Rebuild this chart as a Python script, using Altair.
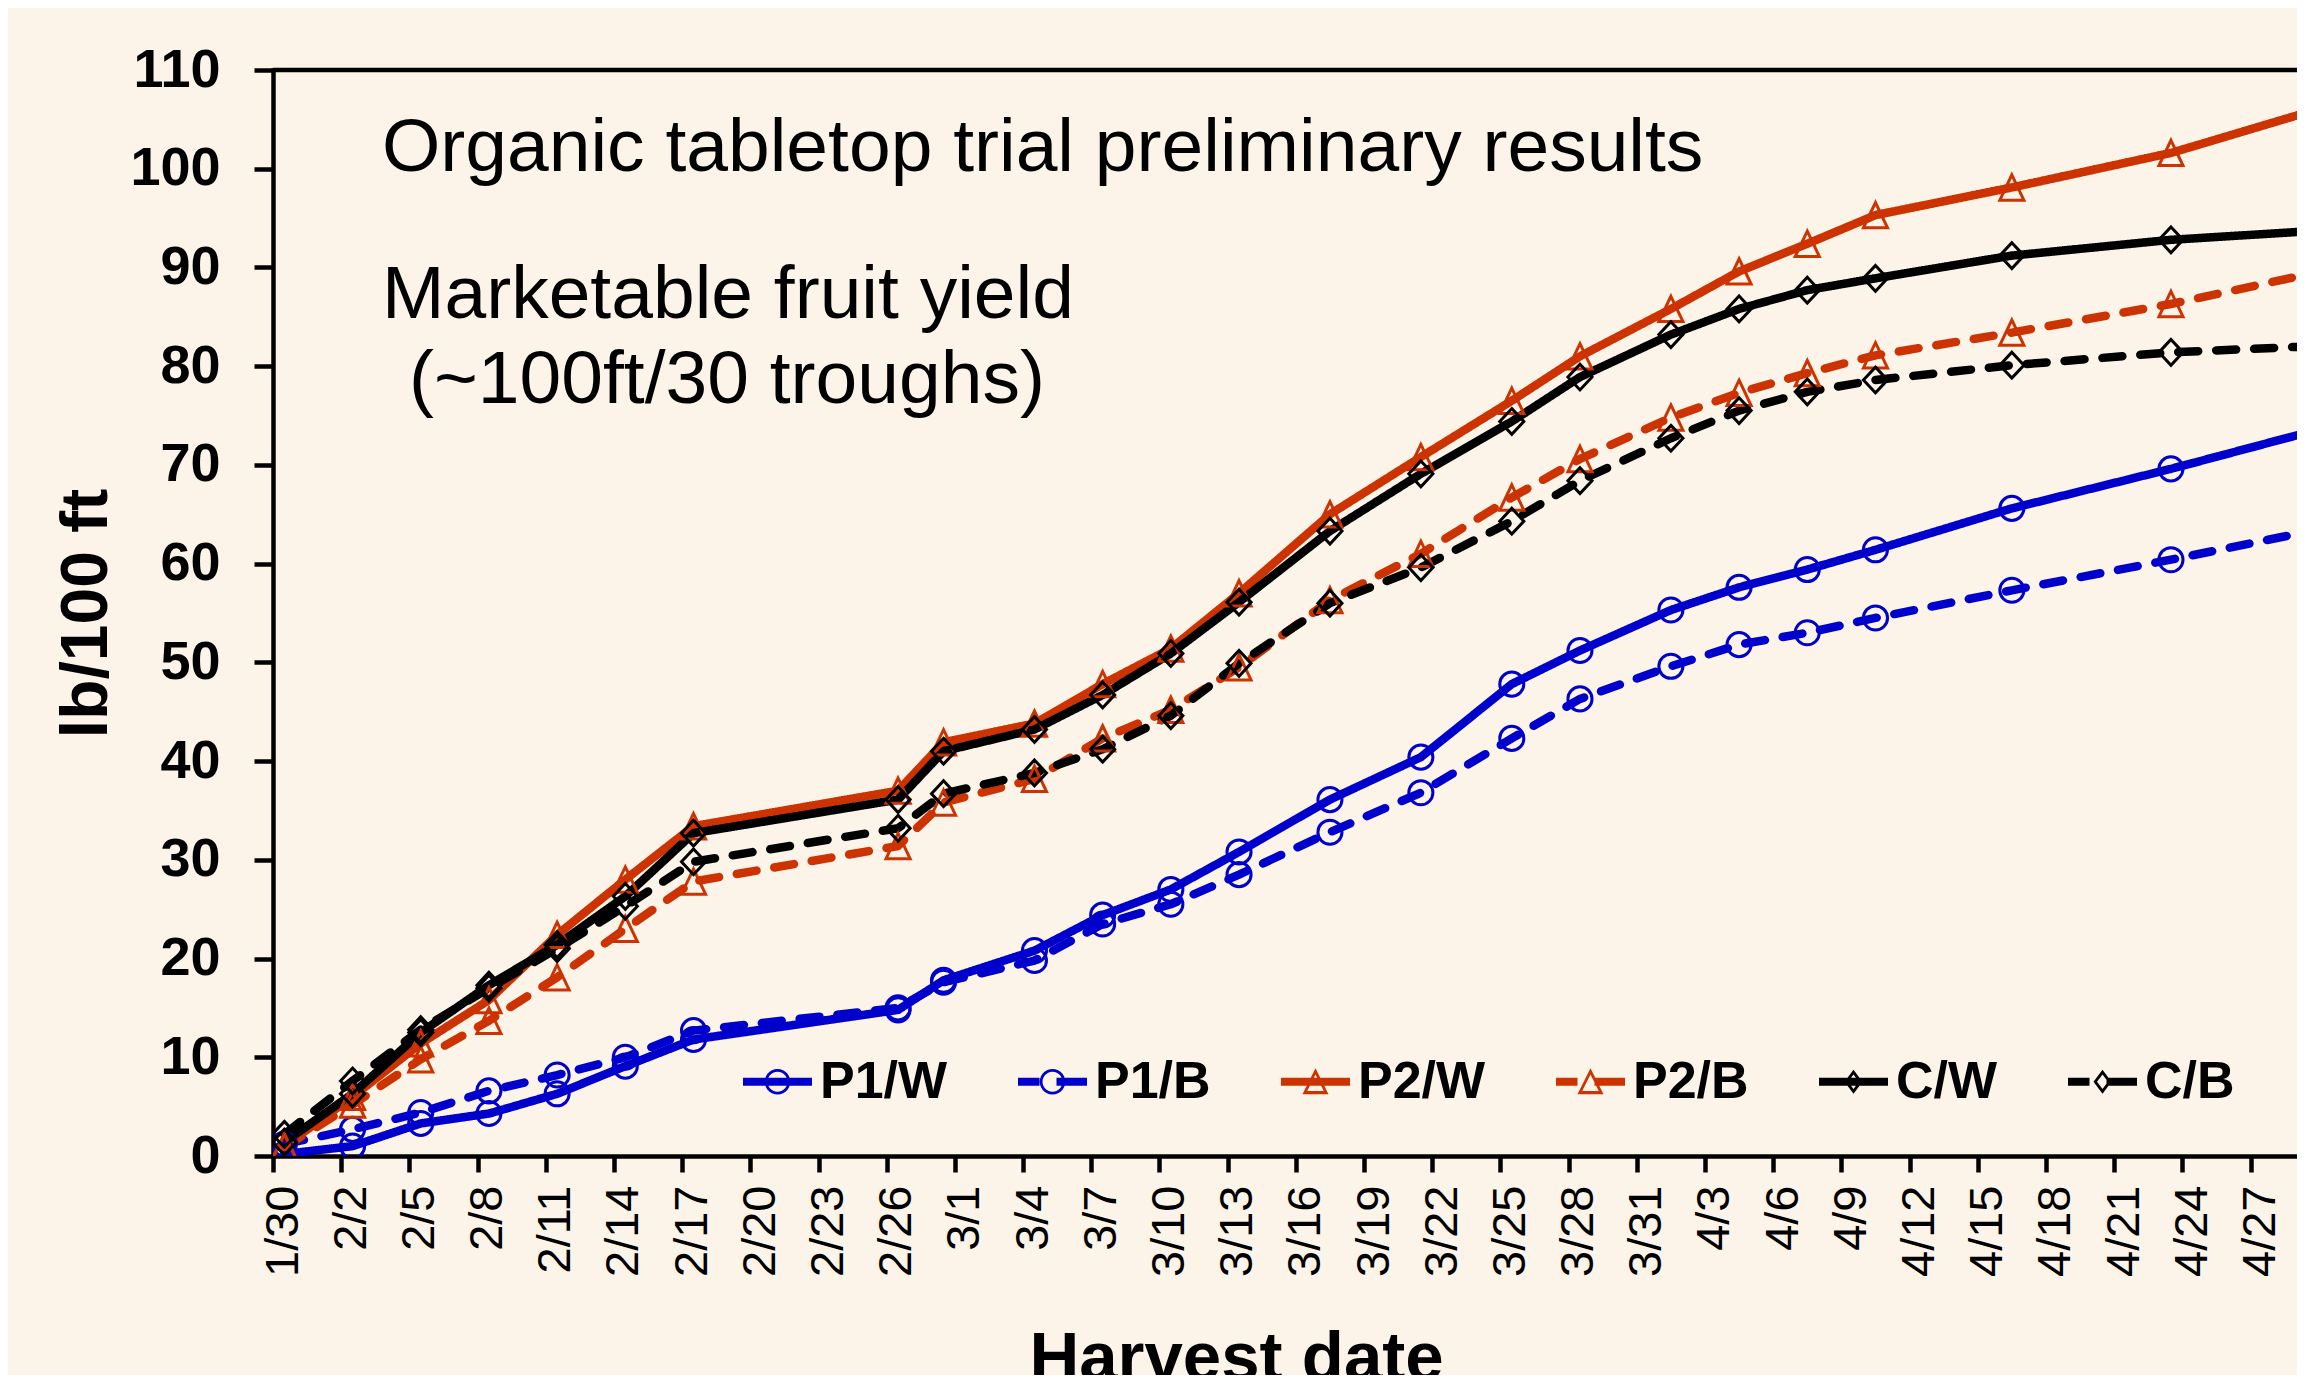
import math
import pandas as pd
import altair as alt

# ---------------- data ----------------
year = 2021
harvest_dates = ["1/30", "2/2", "2/5", "2/8", "2/11", "2/14", "2/17", "2/26", "2/28",
                 "3/4", "3/7", "3/10", "3/13", "3/17", "3/21", "3/25", "3/28",
                 "4/1", "4/4", "4/7", "4/10", "4/16", "4/23", "4/30"]
series_names = ["P1/W", "P1/B", "P2/W", "P2/B", "C/W", "C/B"]

p1_w = [0.2, 1.0, 3.3, 4.3, 6.3, 9.1, 11.8, 14.8, 17.8, 20.8, 24.4, 27.0, 30.8, 36.1,
        40.4, 47.8, 51.2, 55.3, 57.6, 59.4, 61.4, 65.6, 69.6, 73.9]
p1_b = [1.2, 2.7, 4.4, 6.6, 8.2, 10.0, 12.7, 15.0, 17.6, 19.8, 23.5, 25.5, 28.5, 32.8,
        36.8, 42.3, 46.3, 49.6, 51.8, 53.0, 54.5, 57.3, 60.4, 63.7]
p2_w = [1.0, 6.0, 11.4, 15.8, 22.4, 28.0, 33.4, 37.0, 41.9, 43.8, 47.8, 51.4, 57.0, 65.0,
        70.8, 76.5, 81.0, 85.8, 89.6, 92.4, 95.3, 98.1, 101.6, 106.4]
p2_b = [0.9, 5.2, 9.8, 13.7, 18.1, 23.0, 27.8, 31.4, 35.8, 38.2, 42.3, 45.2, 49.5, 56.3,
        61.0, 66.7, 70.6, 74.8, 77.3, 79.3, 81.1, 83.4, 86.3, 89.8]
c_w = [1.4, 6.3, 12.5, 17.3, 21.4, 26.3, 32.7, 36.1, 41.0, 43.2, 46.7, 50.9, 56.1, 63.3,
       69.1, 74.4, 78.9, 83.2, 85.8, 87.7, 88.9, 91.2, 92.8, 93.8]
c_b = [2.2, 7.6, 12.8, 17.0, 21.0, 25.3, 29.8, 33.2, 36.7, 38.8, 41.2, 44.6, 49.9, 56.0,
       59.6, 64.3, 68.4, 72.7, 75.5, 77.4, 78.6, 80.1, 81.4, 82.1]
series_values = [p1_w, p1_b, p2_w, p2_b, c_w, c_b]

tick_labels = ["1/30", "2/2", "2/5", "2/8", "2/11", "2/14", "2/17", "2/20", "2/23", "2/26",
               "3/1", "3/4", "3/7", "3/10", "3/13", "3/16", "3/19", "3/22", "3/25", "3/28",
               "3/31", "4/3", "4/6", "4/9", "4/12", "4/15", "4/18", "4/21", "4/24", "4/27"]
y_ticks = list(range(0, 111, 10))
y_max = 110

title_text = "Organic tabletop trial preliminary results"
subtitle_lines = ["Marketable fruit yield", "\u200b\u00a0\u200a(~100ft/30 troughs)"]

# ---------------- styles ----------------
BLUE, RED, BLACK = "#0000CC", "#CC3300", "#000000"
colors = [BLUE, BLUE, RED, RED, BLACK, BLACK]
LINE_W = 8.5
DASH = [20, 18]
SOLID = [1, 0]
dashes = [SOLID, DASH, SOLID, DASH, SOLID, DASH]
TRI = "M0,-1.05L1,1.05L-1,1.05Z"
DIA = "M0,-1.07L1,0L0,1.07L-1,0Z"
marker_shapes = ["circle", "circle", TRI, TRI, DIA, DIA]
FONT = "Liberation Sans, Arial, sans-serif"
BG = "#FDF4E9"

# legend symbols: filled paths (line segments + hollow marker ring), unit = 34.5 px
U = 34.5


def fmt(v):
    return f"{v / U:.4f}"


def poly(pts):
    return "M" + "L".join(f"{fmt(x)},{fmt(y)}" for x, y in pts) + "Z"


def rect(x0, x1, h=4.0):
    return poly([(x0, -h), (x1, -h), (x1, h), (x0, h)])


def ring_circle(R=12.8, t=2.8, n=28):
    outer = [(R * math.cos(2 * math.pi * i / n), R * math.sin(2 * math.pi * i / n)) for i in range(n)]
    r = R - t
    inner = [(r * math.cos(2 * math.pi * i / n), r * math.sin(2 * math.pi * i / n)) for i in range(n)][::-1]
    return poly(outer) + poly(inner)


def ring_poly(outer, t=2.8):
    cx = sum(p[0] for p in outer) / len(outer)
    cy = sum(p[1] for p in outer) / len(outer)
    d = 1e9
    for i in range(len(outer)):
        x1, y1 = outer[i]
        x2, y2 = outer[(i + 1) % len(outer)]
        L = math.hypot(x2 - x1, y2 - y1)
        dist = abs((x2 - x1) * (y1 - cy) - (x1 - cx) * (y2 - y1)) / L
        d = min(d, dist)
    k = (d - t) / d
    inner = [(cx + (x - cx) * k, cy + (y - cy) * k) for x, y in outer][::-1]
    return poly(outer) + poly(inner)


tri_ring = ring_poly([(0, -13.5), (13, 12.5), (-13, 12.5)])
dia_ring = ring_poly([(0, -12), (9, 0), (0, 12), (-9, 0)])
circ_ring = ring_circle()
solid_line = rect(-U, U)
dash_line = rect(-U, -13) + rect(4, U)
legend_paths = [solid_line + circ_ring, dash_line + circ_ring,
                solid_line + tri_ring, dash_line + tri_ring,
                solid_line + dia_ring, dash_line + dia_ring]

# ---------------- table ----------------
rows = []
for name, col, vals in zip(series_names, colors, series_values):
    for d, v in zip(harvest_dates, vals):
        m, day = d.split("/")
        rows.append({"series": name, "color": col,
                     "date": f"{year}-{int(m):02d}-{int(day):02d}T12:00:00",
                     "value": v})
df = pd.DataFrame(rows)


def dt(label, hours=0, minutes=0):
    m, d = label.split("/")
    return alt.DateTime(year=year, month=int(m), date=int(d), hours=hours, minutes=minutes)


x_enc = alt.X(
    "date:T",
    scale=alt.Scale(domain=[dt("1/30"), dt("4/29", 1, 5)], nice=False),
    axis=alt.Axis(
        values=[dt(t) for t in tick_labels], format="%-m/%-d", title="Harvest date",
        labelAngle=270, labelAlign="right", labelBaseline="middle", labelFontSize=47,
        labelFontWeight="normal", labelPadding=13, labelOffset=10, labelOverlap=False,
        labelFlush=False, labelBound=False,
        tickSize=16, tickWidth=4.5, tickColor="black",
        domainWidth=4.5, domainColor="black", domainCap="square",
        titleFontSize=69, titleFontWeight="bold", titleX=963, titleY=223,
        titleBaseline="alphabetic", titleAlign="center", grid=False,
    ),
)
y_enc = alt.Y(
    "value:Q",
    scale=alt.Scale(domain=[0, y_max], nice=False),
    axis=alt.Axis(
        values=y_ticks, title="lb/100 ft", grid=False,
        labelFontSize=54, labelFontWeight="bold", labelPadding=34,
        tickSize=19, tickWidth=4.5, tickColor="black",
        domainWidth=4.5, domainColor="black", domainCap="square",
        titleFontSize=66, titleFontWeight="bold", titleAngle=270,
        titleX=-167, titleY=543, titleBaseline="alphabetic", titleAlign="center",
    ),
)

top_rule = alt.Chart(pd.DataFrame({"y": [y_max]})).mark_rule(
    color="black", strokeWidth=4.5
).encode(y=alt.Y("y:Q", scale=alt.Scale(domain=[0, y_max], nice=False)))

lines = alt.Chart(df).mark_line(
    strokeWidth=LINE_W, strokeCap="round", strokeJoin="round", clip=True
).encode(
    x=x_enc, y=y_enc,
    color=alt.Color("color:N", scale=None),
    strokeDash=alt.StrokeDash("series:N", scale=alt.Scale(domain=series_names, range=dashes), legend=None),
    detail="series:N",
)

points = alt.Chart(df).mark_point(
    filled=False, strokeWidth=3, size=580, opacity=1, clip=True
).encode(
    x="date:T", y="value:Q",
    color=alt.Color("color:N", scale=None),
    shape=alt.Shape("series:N", scale=alt.Scale(domain=series_names, range=marker_shapes), legend=None),
)

leg = dict(
    title=None, orient="none", legendX=470, legendY=977, direction="horizontal", columns=6,
    columnPadding=70, labelOffset=8, labelFont=FONT, labelFontSize=52, labelFontWeight="bold",
    labelColor="black", symbolSize=4761, symbolStrokeWidth=0, symbolOpacity=1, padding=0,
    labelLimit=0,
)
legend_layer = alt.Chart(df).transform_filter("false").mark_point(
    filled=True, opacity=1, size=4761, strokeWidth=0
).encode(
    shape=alt.Shape("series:N", scale=alt.Scale(domain=series_names, range=legend_paths),
                    legend=alt.Legend(**leg)),
    color=alt.Color("series:N", scale=alt.Scale(domain=series_names, range=colors),
                    legend=alt.Legend(**leg)),
)

chart = alt.layer(top_rule, lines, points, legend_layer).resolve_scale(
    shape="independent", color="independent"
).properties(
    width=2024, height=1086,
    padding={"left": 265, "top": 62, "right": 0, "bottom": 219},
    autosize=alt.AutoSizeParams(type="none"),
    background=BG,
    title=alt.TitleParams(
        text=title_text, subtitle=subtitle_lines,
        anchor="start", orient="top", frame="group", dx=109, offset=-376,
        font=FONT, fontSize=75, fontWeight="normal", color="black",
        subtitleFont=FONT, subtitleFontSize=75, subtitleColor="black",
        subtitleLineHeight=85, subtitlePadding=72,
    ),
).configure_view(strokeWidth=0).configure_axis(
    labelFont=FONT, titleFont=FONT, labelColor="black", titleColor="black"
)

chart.save("out.html", embed_options={"renderer": "svg", "actions": False})
